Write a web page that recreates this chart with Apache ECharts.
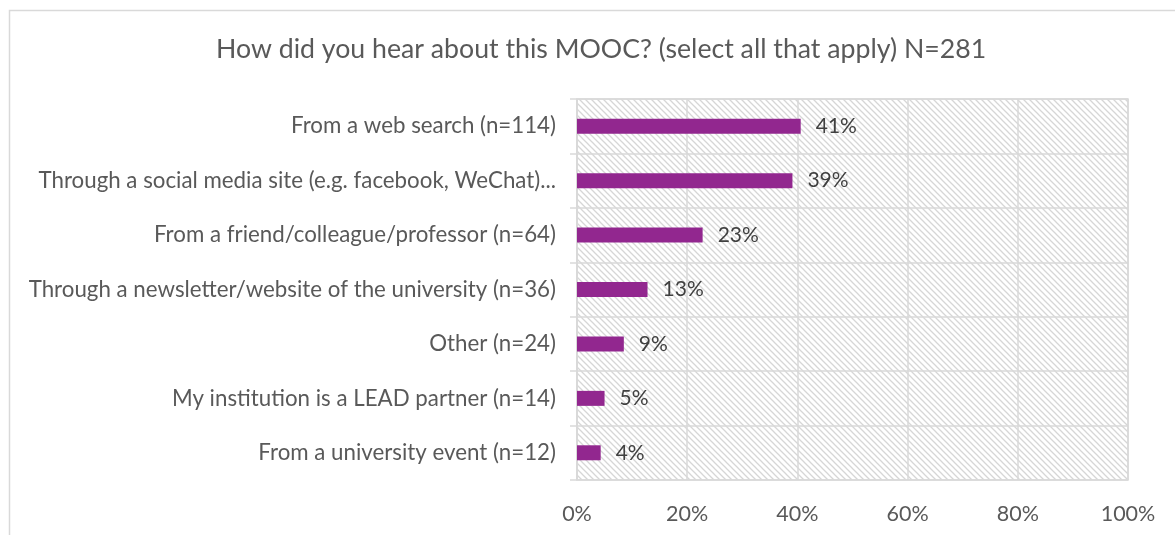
<!DOCTYPE html>
<html>
<head>
<meta charset="utf-8">
<script src="https://cdn.jsdelivr.net/npm/echarts@6/dist/echarts.min.js"></script>
<style>
  html, body { margin: 0; padding: 0; background: #fff; }
  #chart { width: 1175px; height: 535px; }
</style>
</head>
<body>
<div id="chart"></div>
<script>
// 分类（从上到下）
var categories = [
  'From a web search (n=114)',
  'Through a social media site (e.g. facebook, WeChat)...',
  'From a friend/colleague/professor (n=64)',
  'Through a newsletter/website of the university (n=36)',
  'Other (n=24)',
  'My institution is a LEAD partner (n=14)',
  'From a university event (n=12)'
];
// 百分比
var percents = [40.6, 39.1, 22.8, 12.8, 8.5, 5.0, 4.3];
var xTicks = [0, 20, 40, 60, 80, 100];

// 斜线底纹
function makeHatch() {
  var s = 6;
  var c = document.createElement('canvas');
  c.width = s; c.height = s;
  var ctx = c.getContext('2d');
  ctx.fillStyle = '#ffffff';
  ctx.fillRect(0, 0, s, s);
  ctx.strokeStyle = '#d6d6d6';
  ctx.lineWidth = 1.3;
  ctx.beginPath();
  ctx.moveTo(-1, -1); ctx.lineTo(s + 1, s + 1);
  ctx.moveTo(-1, s - 1); ctx.lineTo(1, s + 1);
  ctx.moveTo(s - 1, -1); ctx.lineTo(s + 1, 1);
  ctx.stroke();
  return c;
}

var chart = echarts.init(document.getElementById('chart'));
var font = 'Lato, "Open Sans", sans-serif';

var option = {
  animation: false,
  title: {
    text: 'How did you hear about this MOOC? (select all that apply) N=281',
    left: 211,
    top: 31,
    textStyle: { fontFamily: font, fontSize: 26.7, fontWeight: 'normal', color: '#595959' }
  },
  graphic: [{
    type: 'rect',
    shape: { x: 9.5, y: 10.5, width: 1200, height: 600 },
    style: { fill: null, stroke: '#d9d9d9', lineWidth: 1.5 },
    silent: true
  }],
  grid: {
    left: 577, right: 47, top: 99, bottom: 55,
    show: true,
    backgroundColor: { image: makeHatch(), repeat: 'repeat' },
    borderColor: '#d9d9d9',
    borderWidth: 1.5
  },
  xAxis: {
    type: 'value',
    min: 0, max: 100, interval: 20,
    axisLine: { show: false },
    axisTick: { show: false },
    splitLine: { lineStyle: { color: '#d9d9d9', width: 1.5 } },
    axisLabel: {
      margin: 23,
      fontFamily: font, fontSize: 21.5, color: '#595959',
      formatter: function (v) { return xTicks.indexOf(v) >= 0 ? v + '%' : ''; }
    }
  },
  yAxis: {
    type: 'category',
    inverse: true,
    data: categories,
    axisLine: { show: true, lineStyle: { color: '#d9d9d9', width: 1.5 } },
    axisTick: { show: true, length: 7, lineStyle: { color: '#d9d9d9', width: 1.5 } },
    splitLine: { show: true, lineStyle: { color: '#d9d9d9', width: 1.5 } },
    axisLabel: { margin: 21, fontFamily: font, fontSize: 22.3, color: '#595959' }
  },
  series: [{
    type: 'bar',
    data: percents,
    barWidth: 15,
    itemStyle: { color: '#92278F' },
    label: {
      show: true,
      position: 'right',
      distance: 15,
      fontFamily: font, fontSize: 21, color: '#404040',
      formatter: function (p) { return Math.round(p.value) + '%'; }
    }
  }]
};

chart.setOption(option);
</script>
</body>
</html>
